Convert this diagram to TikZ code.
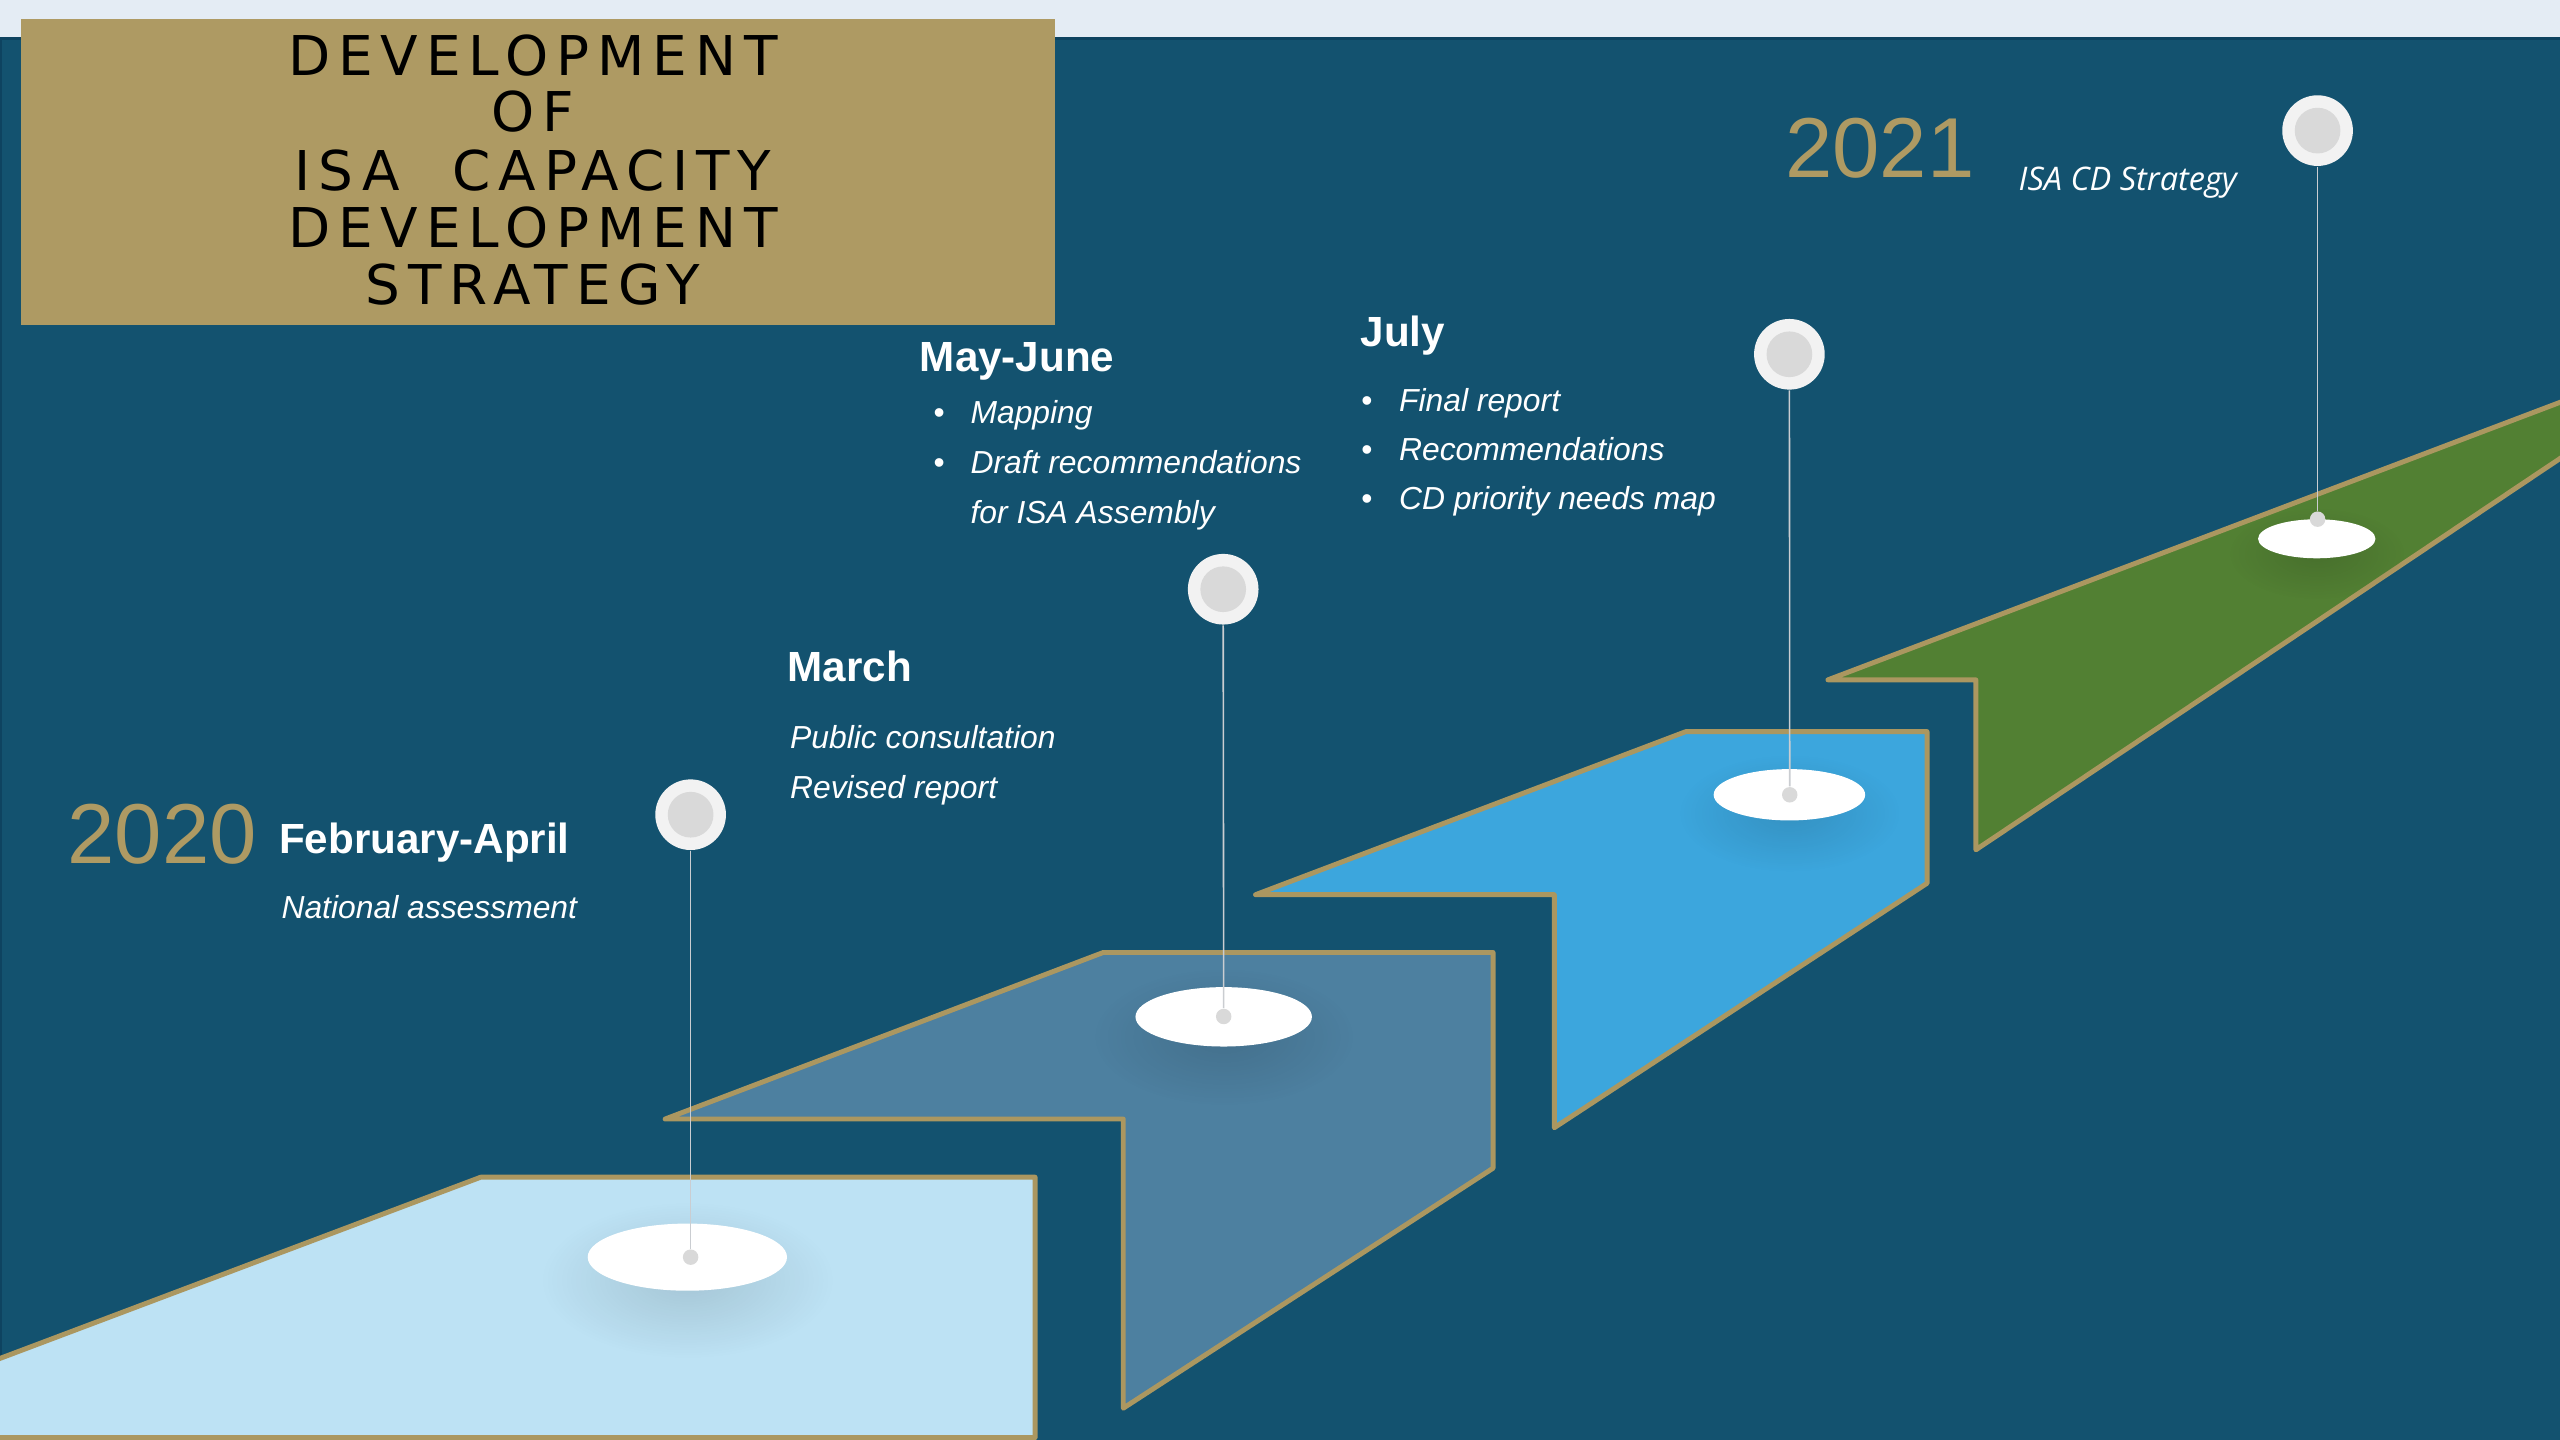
\documentclass[tikz,border=0pt]{standalone}
\usepackage{fontspec}
\setmainfont{Liberation Sans}
\newfontfamily\titlefont[LetterSpace=14.4]{DejaVu Sans}
\newfontfamily\cdfont{Open Sans}
\usetikzlibrary{shapes.geometric,fadings}
\definecolor{bg}{HTML}{13526F}
\definecolor{bgedge}{HTML}{0E4360}
\definecolor{strip}{HTML}{E4ECF4}
\definecolor{gold}{HTML}{AE9A63}
\definecolor{goldline}{HTML}{AB9760}
\definecolor{lblue}{HTML}{BDE2F4}
\definecolor{sblue}{HTML}{4D80A0}
\definecolor{bblue}{HTML}{3CA6DD}
\definecolor{sgreen}{HTML}{528033}
\definecolor{pinouter}{HTML}{F2F2F2}
\definecolor{pincore}{HTML}{D9D9D9}
\definecolor{pinline}{HTML}{CACDD1}
\tikzfading[name=softshadow, inner color=transparent!0, outer color=transparent!100]
\begin{document}
\begin{tikzpicture}[x=0.4645pt,y=-0.4645pt,
  stepshape/.style={draw=goldline, line width=1.4pt, line join=round},
  titleline/.style={inner sep=0, anchor=base, text=black, font=\titlefont\fontsize{15.6}{16}\selectfont},
  hd/.style={inner sep=0, anchor=base west, text=white, font=\fontsize{12}{14}\selectfont\bfseries},
  it/.style={inner sep=0, anchor=base west, text=white, font=\fontsize{9.06}{11}\selectfont\itshape},
  bul/.style={inner sep=0, anchor=base, text=white, font=\fontsize{9.06}{11}\selectfont},
  yr/.style={inner sep=0, anchor=base west, text=gold, font=\fontsize{24.2}{28}\selectfont},
  cd/.style={inner sep=0, anchor=base west, text=white, font=\cdfont\itshape\fontsize{9.25}{11}\selectfont},
  pinhead/.style={circle, fill=pinouter, minimum size=20.1pt, inner sep=0},
  pincoreS/.style={circle, fill=pincore, minimum size=13pt, inner sep=0},
  pinbase/.style={ellipse, fill=white, inner sep=0},
  pindot/.style={circle, fill=pincore, minimum size=4.4pt, inner sep=0},
  pinconn/.style={draw=pinline, line width=0.45pt},
  shadowS/.style={fill=black, path fading=softshadow, fill opacity=0.12}
]
\useasboundingbox (0,0) rectangle (1568,882);
\clip (0,0) rectangle (1568,882);
% background
\fill[strip] (0,0) rectangle (1568,882);
\fill[bg] (0,23.4) rectangle (1572,886);
\draw[bgedge, line width=0.8pt] (0.5,886) -- (0.5,23.4) -- (1572,23.4);

% steps
\draw[stepshape, fill=lblue] (-10,835.8) -- (294.5,721) -- (634,721) -- (634,880.5) -- (-10,880.5) -- cycle;
\draw[stepshape, fill=sblue] (407.4,685.4) -- (675.7,583.4) -- (914.5,583.4) -- (914.5,715.5) -- (688,862.5) -- (688,685.4) -- cycle;
\draw[stepshape, fill=bblue] (769,548) -- (1032.6,448.1) -- (1180.3,448.1) -- (1180.3,541) -- (952,690.7) -- (952,548) -- cycle;
\draw[stepshape, fill=sgreen] (1119.6,416.4) -- (1600,234.3) -- (1600,259.4) -- (1210.2,520.5) -- (1210.2,416.4) -- cycle;

% title box
\fill[gold] (13,11.6) rectangle (646,199);
\node[titleline] (t1) at (326.4,46) {DEVELOPMENT};
\node[titleline] (t2) at (326.4,80.6) {OF};
\node[titleline] (t3) at (326.4,116.4) {ISA\hspace{15pt}CAPACITY};
\node[titleline] (t4) at (326.4,151.5) {DEVELOPMENT};
\node[titleline] (t5) at (326.4,186.8) {STRATEGY};

% shadows under the pin bases
\fill[shadowS] (421,784) ellipse (90 and 48);
\fill[shadowS] (749.5,635) ellipse (80 and 42);
\fill[shadowS] (1096,498) ellipse (68 and 36);
\fill[shadowS] (1419,339) ellipse (54 and 28);

% pin bases
\node[pinbase, minimum width=56.7pt, minimum height=19.1pt] (e1) at (421,770) {};
\node[pinbase, minimum width=50.2pt, minimum height=16.9pt] (e2) at (749.5,622.8) {};
\node[pinbase, minimum width=43.1pt, minimum height=14.6pt] (e3) at (1096,486.8) {};
\node[pinbase, minimum width=33.4pt, minimum height=11.1pt] (e4) at (1419,330) {};

% pin heads
\node[pinhead] (h1) at (423,499) {};
\node[pincoreS] (c1) at (h1) {};
\node[pinhead] (h2) at (749.2,360.9) {};
\node[pincoreS] (c2) at (h2) {};
\node[pinhead] (h3) at (1096,217) {};
\node[pincoreS] (c3) at (h3) {};
\node[pinhead] (h4) at (1419.5,80) {};
\node[pincoreS] (c4) at (h4) {};

% pin dots
\node[pindot] (d1) at (423,770) {};
\node[pindot] (d2) at (749.5,622.6) {};
\node[pindot] (d3) at (1096.2,486.8) {};
\node[pindot] (d4) at (1419.5,318) {};

% connectors
\draw[pinconn] (h1.south) -- (d1.north);
\draw[pinconn] (h2.south) -- (d2.north);
\draw[pinconn] (h3.south) -- (d3.north);
\draw[pinconn] (h4.south) -- (d4.north);

% texts
\node[yr] (y2020) at (41,529) {2020};
\node[hd] (feb) at (170.5,523) {February-April};
\node[it] (nat) at (172,562.6) {National assessment};

\node[hd] (mar) at (482,417.5) {March};
\node[it] (pub) at (483.5,458.3) {Public consultation};
\node[it] (rev) at (483.5,489.3) {Revised report};

\node[hd] (may) at (563,227.6) {May-June};
\node[bul] (mb1) at (575.2,259.2) {•};
\node[it] (map) at (594,259.2) {Mapping};
\node[bul] (mb2) at (575.2,289.9) {•};
\node[it] (drf) at (594,289.9) {Draft recommendations};
\node[it] (asm) at (594,320.5) {for ISA Assembly};

\node[hd] (jul) at (833,212.3) {July};
\node[bul] (jb1) at (837.3,252.1) {•};
\node[it] (fin) at (856.5,252.1) {Final report};
\node[bul] (jb2) at (837.3,282.1) {•};
\node[it] (rec) at (856.5,282.1) {Recommendations};
\node[bul] (jb3) at (837.3,312.3) {•};
\node[it] (cdp) at (856.5,312.3) {CD priority needs map};

\node[yr] (y2021) at (1093,108.5) {2021};
\node[cd] (cds) at (1236,116.5) {ISA CD Strategy};
\end{tikzpicture}
\end{document}
